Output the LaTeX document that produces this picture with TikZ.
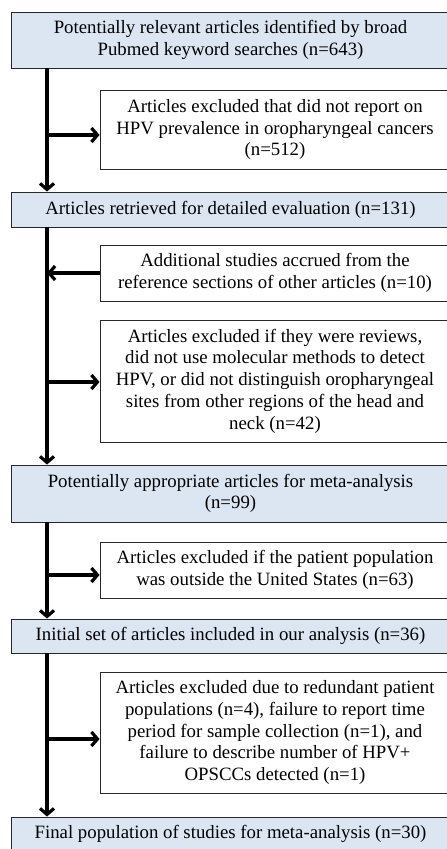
\documentclass[tikz,border=0pt]{standalone}
\usepackage{fontspec}
\setmainfont{Liberation Serif}
\usetikzlibrary{arrows.meta}
\definecolor{boxblue}{RGB}{220,230,242}
\definecolor{edgegray}{RGB}{40,40,40}
\begin{document}
\begin{tikzpicture}[x=1pt,y=-1pt,
  box/.style={draw=edgegray, line width=0.9pt, align=center, inner sep=0pt,
    font=\fontsize{18.8}{21.7}\selectfont},
  mainbox/.style={box, fill=boxblue, minimum width=439pt},
  sidebox/.style={box, fill=white, minimum width=350pt},
  flow/.style={line width=3.2pt, -{Straight Barb[length=6pt,width=14pt]}}]
\path[use as bounding box] (0,0) rectangle (447,849);
\clip (0,0) rectangle (447,849);

\node[mainbox, minimum height=56pt] (b1) at (230.5,40)
  {Potentially relevant articles identified by broad\\Pubmed keyword searches (n=643)};
\node[sidebox, minimum height=79pt] (b2) at (275,129.5)
  {Articles excluded that did not report on\\HPV prevalence in oropharyngeal cancers\\(n=512)};
\node[mainbox, minimum height=35pt] (b3) at (230.5,209.5)
  {Articles retrieved for detailed evaluation (n=131)};
\node[sidebox, minimum height=56pt] (b4) at (275,273)
  {Additional studies accrued from the\\reference sections of other articles (n=10)};
\node[sidebox, minimum height=122pt] (b5) at (275,381)
  {Articles excluded if they were reviews,\\did not use molecular methods to detect\\HPV, or did not distinguish oropharyngeal\\sites from other regions of the head and\\neck (n=42)};
\node[mainbox, minimum height=57pt] (b6) at (230.5,493.5)
  {Potentially appropriate articles for meta-analysis\\(n=99)};
\node[sidebox, minimum height=56pt] (b7) at (275,570)
  {Articles excluded if the patient population\\was outside the United States (n=63)};
\node[mainbox, minimum height=34pt] (b8) at (230.5,636)
  {Initial set of articles included in our analysis (n=36)};
\node[sidebox, minimum height=121pt] (b9) at (275,732.5)
  {Articles excluded due to redundant patient\\populations (n=4), failure to report time\\period for sample collection (n=1), and\\failure to describe number of HPV+\\OPSCCs detected (n=1)};
\node[mainbox, minimum height=34pt] (b10) at (230.5,834)
  {Final population of studies for meta-analysis (n=30)};

\coordinate (s1) at (47,68);
\coordinate (j1) at (47,135);
\coordinate (s2) at (47,227);
\coordinate (j2) at (47,273);
\coordinate (j3) at (47,382);
\coordinate (s3) at (47,522);
\coordinate (j4) at (47,575);
\coordinate (s4) at (47,653);
\coordinate (j5) at (47,739);

\draw[flow] (s1) -- (s1 |- b3.north);
\draw[flow] (s2) -- (s2 |- b6.north);
\draw[flow] (s3) -- (s3 |- b8.north);
\draw[flow] (s4) -- (s4 |- b10.north);

\draw[flow] (j1) -- (b2.west |- j1);
\draw[flow] (b4.west |- j2) -- (j2);
\draw[flow] (j3) -- (b5.west |- j3);
\draw[flow] (j4) -- (b7.west |- j4);
\draw[flow] (j5) -- (b9.west |- j5);
\end{tikzpicture}
\end{document}
